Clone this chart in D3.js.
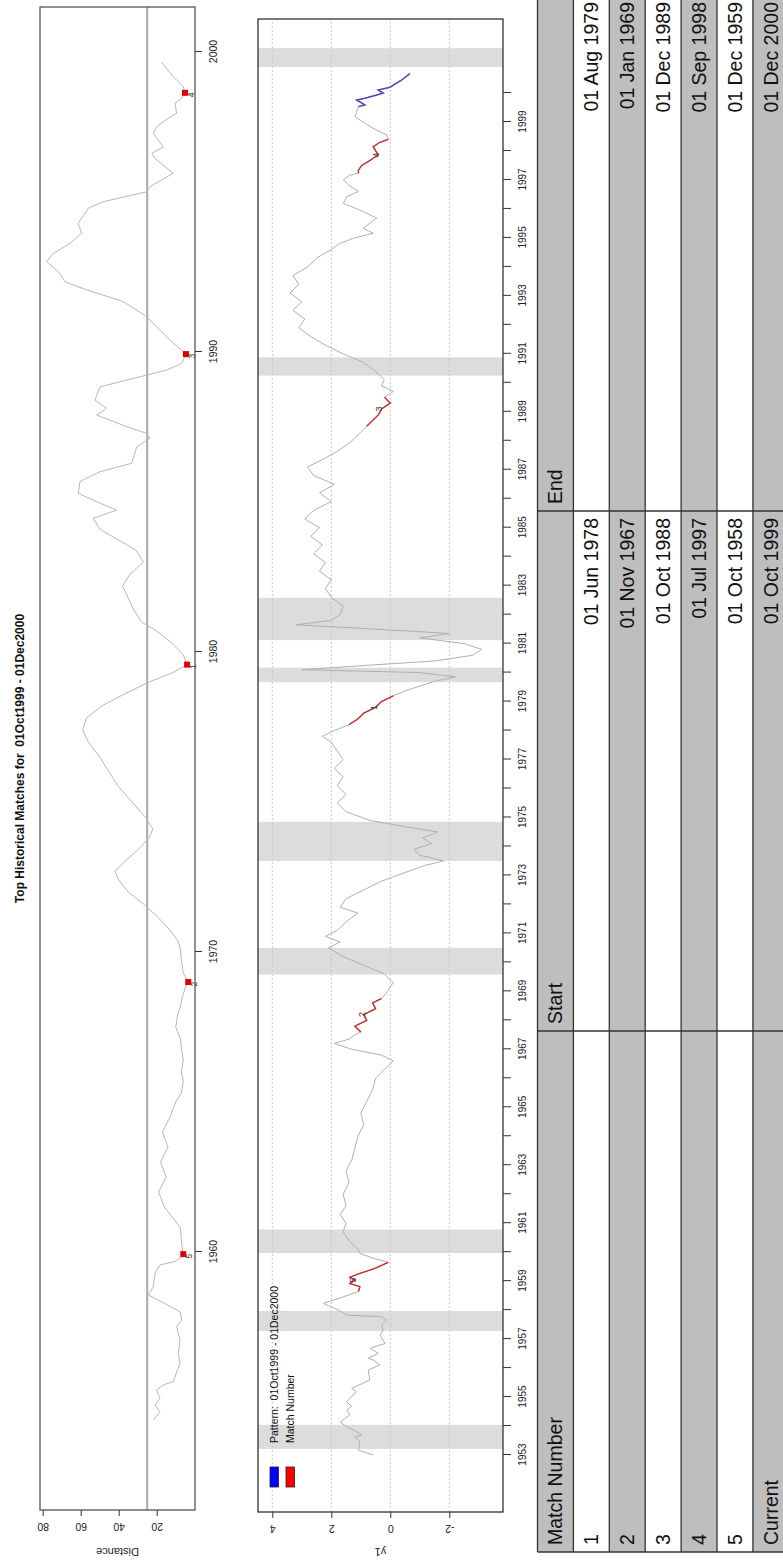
<!DOCTYPE html>
<html>
<head>
<meta charset="utf-8">
<script src="https://cdn.jsdelivr.net/npm/d3@7"></script>
<style>
  body { margin: 0; background: #fff; }
  text { font-family: "Liberation Sans", Arial, sans-serif; }
</style>
</head>
<body>
<svg id="chart" width="783" height="1564"></svg>
<script>
// ---------------- data ----------------
const title = "Top Historical Matches for  01Oct1999 - 01Dec2000";

// distance of each window to the current pattern: [year, distance]
const distanceSeries = [
  [1954.40,21.8],[1954.68,18.3],[1954.90,20.9],[1955.12,18.3],[1955.40,20.0],[1955.57,16.5],
  [1955.68,11.3],[1956.29,7.7],[1956.62,8.6],[1957.07,7.7],[1957.51,9.5],[1957.73,6.8],
  [1958.01,7.7],[1958.57,24.4],[1958.84,21.8],[1959.29,20.9],[1959.57,18.3],[1959.68,10.4],
  [1959.84,6.8],[1959.93,6.0],[1960.1,6.5],[1960.4,7.0],[1960.8,7.5],[1961.1,11],[1961.5,16],
  [1962.0,19],[1962.5,15],[1963.0,18],[1963.5,14],[1964.0,17],[1964.5,13],[1965.0,10],
  [1965.3,7],[1965.7,6],[1966.0,7],[1966.4,6],[1966.8,7],[1967.1,7.5],[1967.5,10],[1967.9,9],
  [1968.2,7.5],[1968.5,6.5],[1968.8,5],[1969.0,3.4],[1969.3,6],[1969.7,7],[1970.1,7.5],
  [1970.4,9],[1970.8,14],[1971.2,20],[1971.6,27],[1972.0,35],[1972.4,40],[1972.7,42],
  [1973.0,37],[1973.4,30],[1973.8,24],[1974.1,22],[1974.5,26],[1975.0,33],[1975.5,40],
  [1976.0,45],[1976.5,50],[1977.0,56],[1977.4,59],[1977.8,57],[1978.2,49],[1978.6,37],
  [1979.0,24],[1979.3,12],[1979.58,4.0],[1979.9,6],[1980.3,12],[1980.7,20],[1981.0,28],
  [1981.4,32],[1981.8,35],[1982.2,38],[1982.6,34],[1983.0,27],[1983.4,31],[1983.8,42],
  [1984.1,50],[1984.46,53.4],[1984.73,41.0],[1984.96,49.8],[1985.29,61.3],[1985.68,60.4],
  [1986.01,49.8],[1986.29,33.2],[1986.84,30.5],[1987.12,23.5],[1987.29,25.3],[1987.51,35.8],
  [1987.90,51.6],[1988.12,46.3],[1988.40,52.5],[1988.84,49.8],[1989.23,25.3],[1989.40,14.7],
  [1989.62,6.8],[1989.93,4.6],[1990.40,13.0],[1990.73,18.3],[1991.18,25.3],[1991.68,37.6],
  [1992.07,56.8],[1992.34,68.3],[1992.62,70.9],[1993.01,77.9],[1993.29,74.4],[1993.62,65.6],
  [1993.96,59.5],[1994.29,61.3],[1994.79,56.0],[1995.01,48.1],[1995.34,25.3],[1995.51,23.5],
  [1995.96,11.3],[1996.40,20.0],[1996.62,22.6],[1996.84,16.5],[1997.29,21.8],[1997.51,20.0],
  [1997.68,16.5],[1997.96,9.5],[1998.29,10.4],[1998.46,6.8],[1998.64,5.1],[1998.84,6.0],
  [1999.18,11.3],[1999.66,17.4]
];
const threshold = 25;

// top matches (table rows and markers)
const matchNumber = ["1", "2", "3", "4", "5"];
const matchStart  = ["01 Jun 1978", "01 Nov 1967", "01 Oct 1988", "01 Jul 1997", "01 Oct 1958"];
const matchEnd    = ["01 Aug 1979", "01 Jan 1969", "01 Dec 1989", "01 Sep 1998", "01 Dec 1959"];
const matchEndYear = [1979.58, 1969.0, 1989.93, 1998.64, 1959.93];
const matchDistance = [4.0, 3.4, 4.6, 5.1, 6.0];
const currentStart = "01 Oct 1999";
const currentEnd   = "01 Dec 2000";

// y1 series on the lower panel time axis: [year, value]
const y1Series = [
  [1953.00,0.58],[1953.17,1.08],[1953.46,1.03],[1953.63,1.20],[1953.69,0.97],[1953.80,1.14],
  [1953.98,1.48],[1954.13,1.70],[1954.39,1.37],[1954.55,1.48],[1954.67,1.31],[1954.84,1.48],
  [1955.18,1.14],[1955.30,1.31],[1955.59,0.69],[1955.93,0.75],[1956.11,0.35],[1956.28,0.58],
  [1956.34,0.75],[1956.51,0.41],[1956.68,0.69],[1956.85,0.18],[1957.14,0.35],[1957.31,0.24],
  [1957.49,0.29],[1957.66,0.12],[1957.77,0.29],[1957.83,1.48],[1958.00,1.76],[1958.23,2.27],
  [1958.46,1.59],[1958.64,1.08],[1958.81,1.03],[1958.92,1.37],[1959.04,1.20],[1959.13,1.37],
  [1959.25,1.08],[1959.44,0.52],[1959.65,0.07],[1959.79,0.58],[1959.96,1.03],
  [1960.1,1.1],[1960.4,1.4],[1960.7,1.6],[1961.0,1.5],[1961.3,1.7],[1961.6,1.5],[1962.0,1.6],
  [1962.4,1.4],[1962.8,1.5],[1963.2,1.3],[1963.6,1.2],[1964.0,1.1],[1964.4,0.9],[1964.8,1.0],
  [1965.2,0.8],[1965.6,0.6],[1966.0,0.5],[1966.3,0.2],[1966.6,-0.1],[1966.8,0.3],[1967.0,1.3],
  [1967.2,1.9],[1967.35,1.4],[1967.5,1.2],[1967.6,1.0],[1967.8,1.2],[1968.0,0.8],[1968.2,0.9],
  [1968.4,0.5],[1968.6,0.6],[1968.75,0.3],[1969.0,0.1],[1969.3,-0.1],[1969.6,0.2],[1969.9,0.9],
  [1970.2,1.6],[1970.5,2.1],[1970.7,1.7],[1970.9,2.2],[1971.1,1.8],[1971.4,1.5],[1971.7,1.1],
  [1971.9,1.7],[1972.2,1.5],[1972.5,0.9],[1972.8,0.3],[1973.1,-0.5],[1973.35,-1.2],
  [1973.5,-1.8],[1973.7,-1.0],[1973.9,-0.8],[1974.1,-1.4],[1974.3,-1.1],[1974.5,-1.6],
  [1974.7,-0.4],[1974.9,0.7],[1975.2,1.5],[1975.5,1.8],[1975.8,1.5],[1976.1,1.8],[1976.4,1.6],
  [1976.7,1.9],[1977.0,1.6],[1977.3,1.8],[1977.6,2.0],[1977.8,2.3],[1978.0,1.9],[1978.2,1.4],
  [1978.4,1.1],[1978.6,0.9],[1978.8,0.5],[1979.0,0.3],[1979.2,-0.1],[1979.4,-0.6],[1979.6,-1.2],
  [1979.7,-1.5],[1979.85,-2.2],[1980.0,-1.0],[1980.1,3.0],[1980.25,0.8],[1980.4,-1.5],
  [1980.6,-2.8],[1980.8,-3.1],[1981.0,-2.5],[1981.2,-1.0],[1981.35,-2.0],[1981.5,0.5],
  [1981.65,3.2],[1981.8,2.0],[1982.0,1.7],[1982.3,1.6],[1982.6,2.0],[1982.9,2.2],[1983.2,2.0],
  [1983.5,2.4],[1983.8,2.2],[1984.1,2.6],[1984.4,2.3],[1984.7,2.7],[1985.0,2.4],[1985.3,2.9],
  [1985.6,2.6],[1985.9,2.0],[1986.2,2.4],[1986.5,1.9],[1986.8,2.6],[1987.1,2.8],[1987.4,2.2],
  [1987.7,1.7],[1988.0,1.3],[1988.3,1.0],[1988.5,0.8],[1988.7,0.6],[1988.9,0.4],[1989.1,0.3],
  [1989.3,0.0],[1989.5,0.2],[1989.7,-0.1],[1989.9,0.3],[1990.1,0.2],[1990.4,0.5],[1990.7,0.9],
  [1991.0,1.6],[1991.3,2.2],[1991.6,2.7],[1991.9,3.1],[1992.2,2.9],[1992.5,3.3],[1992.8,3.0],
  [1993.1,3.4],[1993.4,3.1],[1993.7,3.3],[1994.0,2.8],[1994.3,2.5],[1994.6,2.0],
  [1994.81,1.71],[1994.99,1.25],[1995.16,0.58],[1995.33,0.92],[1995.68,0.46],[1995.96,1.03],
  [1996.19,1.59],[1996.42,1.48],[1996.60,1.08],[1996.83,1.42],[1997.00,1.59],[1997.17,1.37],
  [1997.23,1.08],[1997.34,1.08],[1997.50,0.97],[1997.63,0.75],[1997.75,0.58],[1997.86,0.41],
  [1998.15,0.58],[1998.30,0.35],[1998.40,0.07],[1998.55,0.12],[1998.78,0.58],[1999.18,1.20],
  [1999.53,1.08],[1999.59,0.86],[1999.76,1.14],[1999.82,0.86],[1999.93,0.46],[2000.00,0.24],
  [2000.10,0.41],[2000.20,0.01],[2000.45,-0.39],[2000.68,-0.67]
];

// windows on the lower panel time axis
const matchWindows = [[1978.17,1979.33],[1967.58,1968.75],[1988.50,1989.67],[1997.23,1998.40],[1958.50,1959.67]];
const currentWindow = [1999.50, 2000.70];

// shaded recessions on the lower panel time axis
const recessions = [
  [1953.21,1954.04],[1957.28,1957.97],[1959.97,1960.78],[1969.58,1970.50],[1973.50,1974.85],
  [1979.67,1980.17],[1981.12,1982.58],[1990.25,1990.88],[2000.90,2001.55]
];

// axis ticks
const distanceTicks = [20, 40, 60, 80];
const distanceYearTicks = [1960, 1970, 1980, 1990, 2000];
const y1Ticks = [-2, 0, 2, 4];
const y1YearTicks = d3.range(1953, 2001);
const y1YearLabels = [1953,1955,1957,1959,1961,1963,1965,1967,1969,1971,1973,1975,1977,1979,
                      1981,1983,1985,1987,1989,1991,1993,1995,1997,1999];

// table
const tableHeader = ["Match Number", "Start", "End"];
const tableRows = matchNumber.map((m, i) => [m, matchStart[i], matchEnd[i]])
  .concat([["Current", currentStart, currentEnd]]);

// ---------------- drawing ----------------
const svg = d3.select("#chart");
svg.append("rect").attr("width", 783).attr("height", 1564).attr("fill", "#fff");

// the figure is laid out in landscape and turned a quarter turn
const g = svg.append("g").attr("transform", "translate(0,1564) rotate(-90)");

const axisFont = "10.5px";
const frameColor = "#555";
const plainNumber = d => String(d);

function styleAxisText(sel, size) {
  sel.selectAll("text").style("font-size", size).attr("fill", "#222");
  sel.selectAll("line").attr("stroke", "#333");
  sel.select(".domain").remove();
}

// ---- top panel: distance ----
const dBox = { x0: 54, x1: 1557, y0: 40, y1: 195 };
const xD = d3.scaleLinear().domain([1960, 2000]).range([312, 1512]);
const yD = d3.scaleLinear().domain([0, 80]).range([194.7, 42.7]);

g.append("line")
  .attr("x1", dBox.x0).attr("x2", dBox.x1)
  .attr("y1", yD(threshold)).attr("y2", yD(threshold))
  .attr("stroke", "#a8a8a8").attr("stroke-width", 2);

g.append("path")
  .datum(distanceSeries)
  .attr("fill", "none").attr("stroke", "#b8b8b8").attr("stroke-width", 1)
  .attr("d", d3.line().x(d => xD(d[0])).y(d => yD(d[1])));

matchEndYear.forEach((t, i) => {
  g.append("rect")
    .attr("x", xD(t) - 3).attr("y", yD(matchDistance[i]) - 3)
    .attr("width", 6).attr("height", 6).attr("fill", "#e00000");
  g.append("text")
    .attr("x", xD(t) - 2).attr("y", yD(matchDistance[i]) + 9)
    .attr("text-anchor", "middle").style("font-size", "8.5px").attr("fill", "#333")
    .text(matchNumber[i]);
});

g.append("rect")
  .attr("x", dBox.x0).attr("y", dBox.y0)
  .attr("width", dBox.x1 - dBox.x0).attr("height", dBox.y1 - dBox.y0)
  .attr("fill", "none").attr("stroke", frameColor).attr("stroke-width", 1.3);

g.append("g").attr("transform", `translate(0,${dBox.y1})`)
  .call(d3.axisBottom(xD).tickValues(distanceYearTicks).tickSize(7).tickPadding(8).tickFormat(plainNumber))
  .call(s => styleAxisText(s, axisFont));

g.append("g").attr("transform", `translate(${dBox.x0},0)`)
  .call(d3.axisLeft(yD).tickValues(distanceTicks).tickSize(6).tickFormat(plainNumber))
  .call(s => styleAxisText(s, axisFont))
  .call(s => s.selectAll("text").attr("transform", "rotate(-90)")
    .attr("x", 0).attr("y", -13).attr("dy", 0).attr("text-anchor", "middle"));

g.append("text")
  .attr("transform", `translate(16,${(dBox.y0 + dBox.y1) / 2}) rotate(-90)`)
  .attr("text-anchor", "middle").style("font-size", "11px").attr("fill", "#222")
  .text("Distance");

g.append("text")
  .attr("x", (dBox.x0 + dBox.x1) / 2).attr("y", 24)
  .attr("text-anchor", "middle").style("font-size", "12px").style("font-weight", "bold")
  .attr("fill", "#111").style("white-space", "pre")
  .text(title);

// ---- middle panel: y1 with matches ----
const yBox = { x0: 52, x1: 1545, y0: 258, y1: 503 };
const xY = d3.scaleLinear().domain([1953, 1999]).range([109, 1442]);
const yY = d3.scaleLinear().domain([-2, 4]).range([449.3, 272.3]);

g.append("g").selectAll("rect").data(recessions).join("rect")
  .attr("x", d => xY(d[0])).attr("width", d => xY(d[1]) - xY(d[0]))
  .attr("y", yBox.y0).attr("height", yBox.y1 - yBox.y0)
  .attr("fill", "#dcdcdc");

g.append("g").selectAll("line").data(y1Ticks).join("line")
  .attr("x1", yBox.x0).attr("x2", yBox.x1)
  .attr("y1", d => yY(d)).attr("y2", d => yY(d))
  .attr("stroke", "#c8c8c8").attr("stroke-width", 1).attr("stroke-dasharray", "2,2");

const y1Line = d3.line().x(d => xY(d[0])).y(d => yY(d[1]));
g.append("path").datum(y1Series)
  .attr("fill", "none").attr("stroke", "#b0b0b0").attr("stroke-width", 1).attr("d", y1Line);

const inWindow = w => y1Series.filter(d => d[0] >= w[0] && d[0] <= w[1]);
matchWindows.forEach((w, i) => {
  const pts = inWindow(w);
  g.append("path").datum(pts)
    .attr("fill", "none").attr("stroke", "#cc2a2a").attr("stroke-width", 1.4).attr("d", y1Line);
  const mid = (w[0] + w[1]) / 2;
  const p = pts.reduce((a, b) => Math.abs(b[0] - mid) < Math.abs(a[0] - mid) ? b : a);
  g.append("text")
    .attr("x", xY(p[0])).attr("y", yY(p[1]) - 2)
    .attr("text-anchor", "middle").attr("dominant-baseline", "central")
    .style("font-size", "9px").attr("fill", "#333")
    .text(matchNumber[i]);
});
g.append("path").datum(inWindow(currentWindow))
  .attr("fill", "none").attr("stroke", "#4a4ab8").attr("stroke-width", 1.5).attr("d", y1Line);

g.append("rect")
  .attr("x", yBox.x0).attr("y", yBox.y0)
  .attr("width", yBox.x1 - yBox.x0).attr("height", yBox.y1 - yBox.y0)
  .attr("fill", "none").attr("stroke", "#333").attr("stroke-width", 1.3);

g.append("g").attr("transform", `translate(0,${yBox.y1})`)
  .call(d3.axisBottom(xY).tickValues(y1YearTicks).tickSize(8).tickPadding(8)
    .tickFormat(d => y1YearLabels.includes(d) ? String(d) : ""))
  .call(s => styleAxisText(s, "10px"));

g.append("g").attr("transform", `translate(${yBox.x0},0)`)
  .call(d3.axisLeft(yY).tickValues(y1Ticks).tickSize(6).tickFormat(plainNumber))
  .call(s => styleAxisText(s, axisFont))
  .call(s => s.selectAll("text").attr("transform", "rotate(-90)")
    .attr("x", 0).attr("y", -13).attr("dy", 0).attr("text-anchor", "middle"));

g.append("text")
  .attr("transform", `translate(16,${(yBox.y0 + yBox.y1) / 2}) rotate(-90)`)
  .attr("text-anchor", "middle").style("font-size", "11px").attr("fill", "#222")
  .text("y1");

// legend
const legend = [
  { color: "#0000ff", label: "Pattern:  01Oct1999 - 01Dec2000", y: 270 },
  { color: "#ff0000", label: "Match Number", y: 286 }
];
legend.forEach(l => {
  g.append("rect").attr("x", 77).attr("y", l.y).attr("width", 20).attr("height", 8.5)
    .attr("fill", l.color).attr("stroke", "#222").attr("stroke-width", 0.8);
  g.append("text").attr("x", 121).attr("y", l.y + 4.3)
    .attr("dominant-baseline", "central").style("font-size", "10.5px")
    .style("white-space", "pre").attr("fill", "#111").text(l.label);
});

// ---- bottom: table of matches ----
const colX = [12, 533, 1053, 1569];
const rowTop = 537.5, rowH = 35.9;
const nRows = tableRows.length + 1;
const tbl = g.append("g");

for (let r = 0; r < nRows; r++) {
  const fill = r === 0 ? "#bebebe" : ((r - 1) % 2 === 0 ? "#ffffff" : "#bebebe");
  tbl.append("rect").attr("x", colX[0]).attr("y", rowTop + r * rowH)
    .attr("width", colX[3] - colX[0]).attr("height", rowH).attr("fill", fill);
}
for (let r = 0; r <= nRows; r++) {
  tbl.append("line").attr("x1", colX[0]).attr("x2", colX[3])
    .attr("y1", rowTop + r * rowH).attr("y2", rowTop + r * rowH)
    .attr("stroke", "#333").attr("stroke-width", 1.3);
}
colX.forEach(cx => {
  tbl.append("line").attr("x1", cx).attr("x2", cx)
    .attr("y1", rowTop).attr("y2", rowTop + nRows * rowH)
    .attr("stroke", "#333").attr("stroke-width", 1.3);
});

const cellText = (txt, r, c, align) => {
  const yb = rowTop + r * rowH + rowH / 2 + 7;
  const x = align === "start" ? colX[c] + 7 : colX[c + 1] - 7;
  tbl.append("text").attr("x", x).attr("y", yb)
    .attr("text-anchor", align).style("font-size", "19.5px").attr("fill", "#111").text(txt);
};
tableHeader.forEach((h, c) => cellText(h, 0, c, "start"));
tableRows.forEach((row, i) => {
  cellText(row[0], i + 1, 0, "start");
  cellText(row[1], i + 1, 1, "end");
  cellText(row[2], i + 1, 2, "end");
});
</script>
</body>
</html>
